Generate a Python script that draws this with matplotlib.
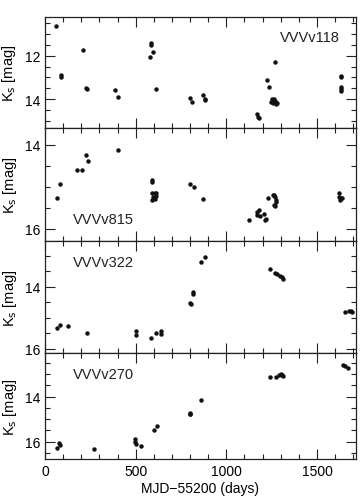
import numpy as np
import matplotlib
matplotlib.use("Agg")
import matplotlib.pyplot as plt
from matplotlib.ticker import MultipleLocator

plt.rcParams['font.family'] = ['Liberation Sans', 'DejaVu Sans']
plt.rcParams['font.size'] = 10

# --- light curves (MJD-55200, Ks) ---
t118 = [61, 88, 88, 211, 226, 230, 386, 403, 583, 583, 579, 597, 610,
        801, 811, 869, 881, 882, 1171, 1175, 1180, 1224, 1233, 1268,
        1245, 1250, 1255, 1258, 1262, 1266, 1270, 1275, 1278,
        1632, 1634, 1630, 1630, 1632]
k118 = [10.61, 12.88, 13.0, 11.72, 13.5, 13.56, 13.58, 13.9, 11.42, 11.5, 12.05, 11.84, 13.53,
        13.95, 14.14, 13.8, 14.0, 14.06, 14.7, 14.83, 14.89, 13.1, 13.45, 12.3,
        14.15, 14.0, 14.05, 14.2, 14.0, 14.1, 14.15, 14.25, 14.2,
        12.94, 12.98, 13.45, 13.56, 13.65]

t815 = [66, 85, 176, 206, 226, 235, 404, 588, 589, 590, 605, 612, 597, 590, 605, 612,
        801, 822, 873, 1127, 1170, 1170, 1183, 1185, 1210, 1213, 1220,
        1230, 1255, 1262, 1268, 1272, 1276, 1262, 1270,
        1623, 1623, 1627, 1630, 1637]
k815 = [15.27, 14.93, 14.59, 14.59, 14.23, 14.39, 14.11, 14.83, 14.89, 15.15, 15.15, 15.15, 15.23, 15.3, 15.28, 15.22,
        14.93, 15.0, 15.29, 15.8, 15.6, 15.68, 15.56, 15.7, 15.65, 15.78, 15.76,
        15.27, 15.19, 15.2, 15.25, 15.3, 15.35, 15.42, 15.46,
        15.14, 15.23, 15.32, 15.26, 15.26]

t322 = [64, 85, 129, 230, 500, 500, 585, 612, 642, 642,
        800, 805, 816, 814, 858, 882,
        1243, 1270, 1280, 1296, 1305, 1311,
        1654, 1676, 1685, 1691]
k322 = [15.34, 15.25, 15.27, 15.49, 15.42, 15.54, 15.66, 15.49, 15.44, 15.52,
        14.53, 14.56, 14.25, 14.18, 13.22, 13.04,
        13.43, 13.56, 13.58, 13.65, 13.7, 13.75,
        14.83, 14.79, 14.8, 14.83]

t270 = [64, 79, 83, 270, 497, 498, 500, 531, 601, 619,
        798, 800, 801, 860,
        1243, 1276, 1292, 1300, 1307, 1312,
        1645, 1655, 1672]
k270 = [16.28, 16.06, 16.15, 16.33, 15.88, 16.0, 16.09, 16.19, 15.5, 15.3,
        14.73, 14.79, 14.76, 14.16,
        13.13, 13.13, 13.03, 12.98, 13.03, 13.07,
        12.58, 12.62, 12.71]

names = ['VVVv118', 'VVVv815', 'VVVv322', 'VVVv270']
ylims = [(15.34, 10.19), (16.28, 13.595), (16.14, 12.52), (16.8, 12.07)]
label_pos = [(0.756, 0.816), (0.089, 0.19), (0.089, 0.81), (0.089, 0.805)]

fig = plt.figure(figsize=(3.61, 5.02), dpi=100)
gs = fig.add_gridspec(4, 1, height_ratios=[111.5, 112.7, 112.6, 106.4],
                      left=0.1247, right=0.986, top=0.965, bottom=0.0827, hspace=0)

data = [(t118, k118), (t815, k815), (t322, k322), (t270, k270)]
for i, (t, k) in enumerate(data):
    ax = fig.add_subplot(gs[i])
    ax.plot(t, k, 'o', ms=3.2, color='#111111', mec='none')
    ax.set_xlim(0, 1715)
    ax.set_ylim(*ylims[i])
    ax.xaxis.set_major_locator(MultipleLocator(500))
    ax.xaxis.set_minor_locator(MultipleLocator(100))
    ax.yaxis.set_major_locator(MultipleLocator(2))
    ax.yaxis.set_minor_locator(MultipleLocator(0.5))
    ax.tick_params(which='both', direction='in', top=True, right=True, width=0.8, color='#222222')
    ax.tick_params(which='major', length=7)
    ax.tick_params(which='minor', length=3.5)
    ax.tick_params(axis='y', pad=3)
    for s in ax.spines.values():
        s.set_linewidth(0.9)
        s.set_color('#222222')
    ax.set_ylabel(r'K$_{\rm s}$ [mag]', labelpad=5, fontsize=10.5)
    ax.text(label_pos[i][0], label_pos[i][1], names[i], transform=ax.transAxes,
            ha='left', va='center', fontsize=10.5, color='#222222')
    if i < 3:
        ax.tick_params(labelbottom=False)
    else:
        ax.set_xlabel('MJD\u221255200 (days)', labelpad=2)

fig.savefig('out.png', dpi=100)
